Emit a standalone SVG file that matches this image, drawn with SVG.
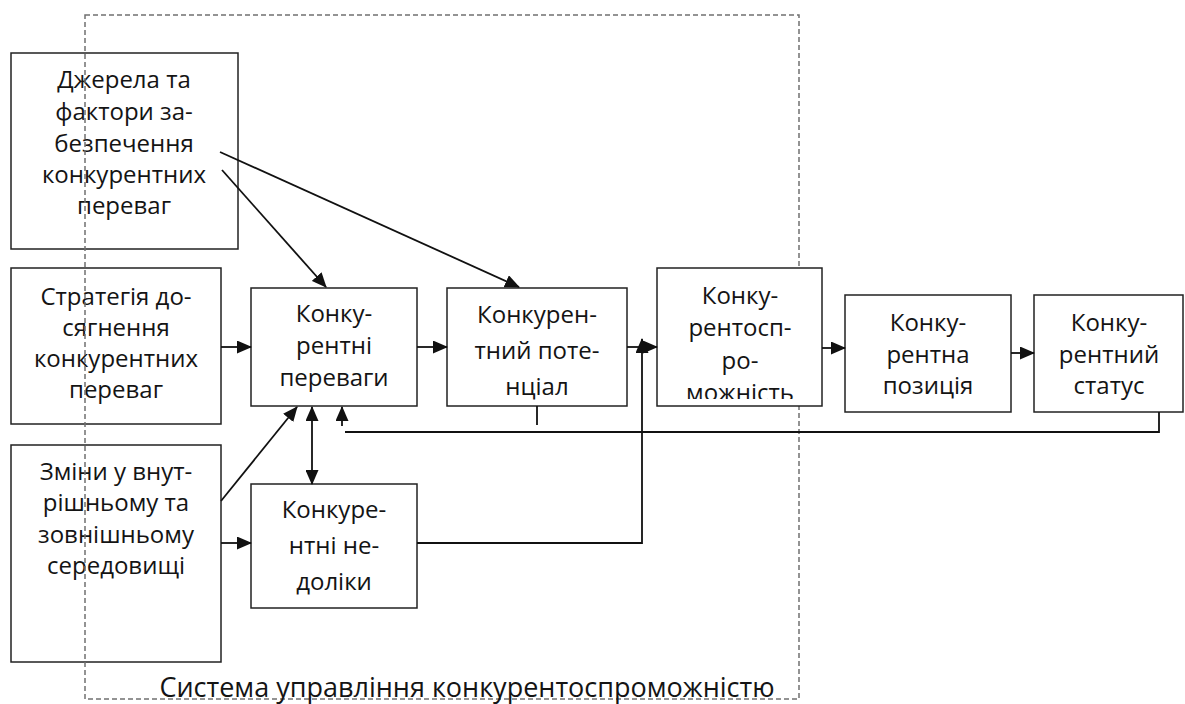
<svg xmlns="http://www.w3.org/2000/svg" width="1185" height="704" viewBox="0 0 1185 704">
<style>
.box{fill:#fff;stroke:#222;stroke-width:1.5}
.t{font-family:"Open Sans","Noto Sans","Liberation Sans",sans-serif;font-size:24px;fill:#141414;text-anchor:middle}
.ln{fill:none;stroke:#111;stroke-width:1.8}
.arr{fill:none;stroke:#111;stroke-width:1.8;marker-end:url(#ah)}
.dash{fill:none;stroke:#707070;stroke-width:1.5;stroke-dasharray:5 3}
</style>
<defs>
<marker id="ah" markerUnits="userSpaceOnUse" markerWidth="15" markerHeight="13" refX="14" refY="6.5" orient="auto">
<path d="M0,0 L15,6.5 L0,13 Z" fill="#111"/>
</marker>
<marker id="ahs" markerUnits="userSpaceOnUse" markerWidth="15" markerHeight="13" refX="1" refY="6.5" orient="auto">
<path d="M15,0 L0,6.5 L15,13 Z" fill="#111"/>
</marker>
<clipPath id="clip3"><rect x="657" y="268" width="165" height="131"/></clipPath>
</defs>

<g id="n1">
<rect class="box" x="11" y="53" width="227" height="196"/>
<text class="t" x="124" y="88">Джерела та</text>
<text class="t" x="124" y="120">фактори за-</text>
<text class="t" x="124" y="152">безпечення</text>
<text class="t" x="124" y="183">конкурентних</text>
<text class="t" x="124" y="214">переваг</text>
</g>

<g id="n2">
<rect class="box" x="11" y="268" width="210" height="156"/>
<text class="t" x="116" y="305">Стратегія до-</text>
<text class="t" x="116" y="336">сягнення</text>
<text class="t" x="116" y="367">конкурентних</text>
<text class="t" x="116" y="398">переваг</text>
</g>

<g id="n3">
<rect class="box" x="11" y="445" width="210" height="217"/>
<text class="t" x="116" y="480">Зміни у внут-</text>
<text class="t" x="116" y="511">рішньому та</text>
<text class="t" x="116" y="543">зовнішньому</text>
<text class="t" x="116" y="574">середовищі</text>
</g>

<g id="container">
<rect class="dash" x="85" y="15" width="714" height="684"/>
</g>

<g id="n4">
<rect class="box" x="251" y="288" width="166" height="118"/>
<text class="t" x="334" y="322">Конку-</text>
<text class="t" x="334" y="354">рентні</text>
<text class="t" x="334" y="386">переваги</text>
</g>

<g id="n5">
<rect class="box" x="447" y="288" width="180" height="118"/>
<text class="t" x="537" y="323">Конкурен-</text>
<text class="t" x="537" y="359">тний поте-</text>
<text class="t" x="537" y="395">нціал</text>
</g>

<g id="n6">
<rect class="box" x="657" y="268" width="165" height="138"/>
<g clip-path="url(#clip3)">
<text class="t" x="740" y="304">Конку-</text>
<text class="t" x="740" y="336">рентосп-</text>
<text class="t" x="740" y="369">ро-</text>
<text class="t" x="740" y="401">можність</text>
</g>
</g>

<g id="n7">
<rect class="box" x="845" y="295" width="166" height="117"/>
<text class="t" x="928" y="331">Конку-</text>
<text class="t" x="928" y="363">рентна</text>
<text class="t" x="928" y="394">позиція</text>
</g>

<g id="n8">
<rect class="box" x="1034" y="295" width="149" height="117"/>
<text class="t" x="1109" y="331">Конку-</text>
<text class="t" x="1109" y="363">рентний</text>
<text class="t" x="1109" y="394">статус</text>
</g>

<g id="n9">
<rect class="box" x="251" y="484" width="166" height="124"/>
<text class="t" x="334" y="518">Конкуре-</text>
<text class="t" x="334" y="554">нтні не-</text>
<text class="t" x="334" y="590">доліки</text>
</g>

<g id="connectors">
<line class="arr" x1="222" y1="170" x2="326" y2="287"/>
<line class="arr" x1="220" y1="152" x2="519" y2="287"/>
<line class="arr" x1="221" y1="347" x2="251" y2="347"/>
<line class="arr" x1="417" y1="347" x2="447" y2="347"/>
<line class="arr" x1="627" y1="347" x2="657" y2="347"/>
<line class="arr" x1="822" y1="348" x2="845" y2="348"/>
<line class="arr" x1="1011" y1="353" x2="1034" y2="353"/>
<line class="arr" x1="221" y1="501" x2="297" y2="407"/>
<line class="arr" x1="221" y1="543" x2="251" y2="543"/>
<line class="arr" x1="312" y1="407" x2="312" y2="484" marker-start="url(#ahs)"/>
<polyline class="arr" points="417,543 642,543 642,339"/>
<line class="arr" x1="342" y1="426" x2="342" y2="407"/>
<polyline class="ln" points="1159,412 1159,432 345,432"/>
<line class="ln" x1="537" y1="406" x2="537" y2="425"/>
</g>

<text class="t" x="467" y="697" style="font-size:27px">Система управління конкурентоспроможністю</text>
</svg>
